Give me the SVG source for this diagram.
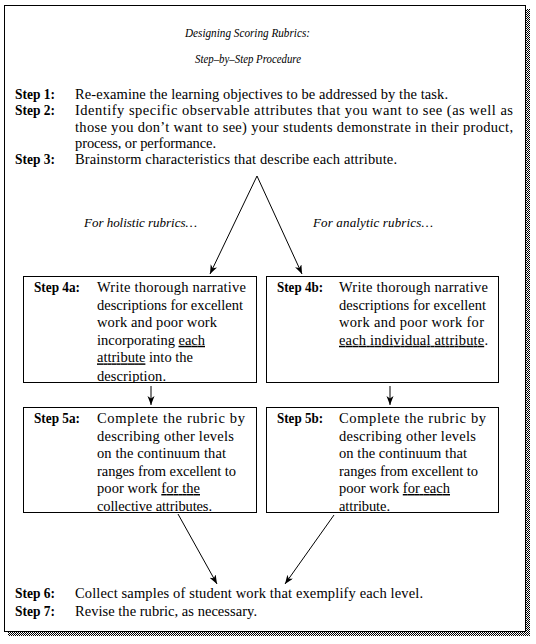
<svg xmlns="http://www.w3.org/2000/svg" width="536" height="644" viewBox="0 0 536 644">
<style>
text{font-family:"Liberation Serif","Times New Roman",serif;fill:#000}
.t{font-size:14.5px}
.b{font-size:14px;font-weight:bold}
.i{font-size:13px;font-style:italic}
.ti{font-size:13.5px;font-style:italic}
.u{text-decoration:underline}
.box{fill:#fff;stroke:#000;stroke-width:1}
.con{fill:none;stroke:#000;stroke-width:1;marker-end:url(#ah)}
</style>
<defs>
<pattern id="dith" width="2" height="2" patternUnits="userSpaceOnUse"><rect width="2" height="2" fill="#fff"/><rect width="1" height="1" fill="#000"/><rect x="1" y="1" width="1" height="1" fill="#000"/></pattern>
<marker id="ah" markerUnits="userSpaceOnUse" markerWidth="10" markerHeight="8" refX="9" refY="3.5" orient="auto"><path d="M0,0 L9,3.5 L0,7 L2.5,3.5 z" fill="#000"/></marker>
<clipPath id="c4a"><rect x="24" y="277" width="232" height="105"/></clipPath>
</defs>
<rect width="536" height="644" fill="#fff"/>
<g id="frame">
<rect x="526" y="9" width="4" height="627" fill="url(#dith)"/>
<rect x="8" y="632" width="522" height="4" fill="url(#dith)"/>
<rect x="4.5" y="5.5" width="521" height="626" fill="none" stroke="#000" stroke-width="1"/>
</g>
<g id="title">
<text class="ti" x="185" y="37" textLength="125" lengthAdjust="spacingAndGlyphs">Designing Scoring Rubrics:</text>
<text class="ti" x="195" y="63" textLength="106" lengthAdjust="spacingAndGlyphs">Step–by–Step Procedure</text>
</g>
<g id="step1">
<text class="b" x="15" y="99" textLength="40" lengthAdjust="spacingAndGlyphs">Step 1:</text>
<text class="t" x="75" y="99" textLength="373" lengthAdjust="spacing">Re-examine the learning objectives to be addressed by the task.</text>
</g>
<g id="step2">
<text class="b" x="15" y="115.25" textLength="40" lengthAdjust="spacingAndGlyphs">Step 2:</text>
<text class="t" x="75" y="115.25" textLength="438" lengthAdjust="spacing">Identify specific observable attributes that you want to see (as well as</text>
<text class="t" x="75" y="131.5" textLength="438" lengthAdjust="spacing">those you don’t want to see) your students demonstrate in their product,</text>
<text class="t" x="75" y="147.75" textLength="141" lengthAdjust="spacing">process, or performance.</text>
</g>
<g id="step3">
<text class="b" x="15" y="164" textLength="40" lengthAdjust="spacingAndGlyphs">Step 3:</text>
<text class="t" x="75" y="164" textLength="322" lengthAdjust="spacing">Brainstorm characteristics that describe each attribute.</text>
</g>
<g id="label-holistic">
<text class="i" x="84" y="227" textLength="113" lengthAdjust="spacing">For holistic rubrics…</text>
</g>
<g id="label-analytic">
<text class="i" x="313" y="227" textLength="120" lengthAdjust="spacing">For analytic rubrics…</text>
</g>
<g id="step4a">
<rect class="box" x="23.5" y="276.5" width="233" height="106"/>
<g clip-path="url(#c4a)">
<text class="b" x="34" y="292" textLength="46" lengthAdjust="spacingAndGlyphs">Step 4a:</text>
<text class="t" x="97" y="292" textLength="149" lengthAdjust="spacing">Write thorough narrative</text>
<text class="t" x="97" y="309.6" textLength="146" lengthAdjust="spacing">descriptions for excellent</text>
<text class="t" x="97" y="327.2" textLength="120" lengthAdjust="spacing">work and poor work</text>
<text class="t" x="97" y="344.8" textLength="108" lengthAdjust="spacing">incorporating <tspan class="u">each</tspan></text>
<text class="t" x="97" y="362.4" textLength="96" lengthAdjust="spacing"><tspan class="u">attribute</tspan> into the</text>
<text class="t" x="97" y="380.5" textLength="69" lengthAdjust="spacing">description.</text>
</g>
</g>
<g id="step4b">
<rect class="box" x="266.5" y="276.5" width="232" height="106"/>
<text class="b" x="277" y="292" textLength="46" lengthAdjust="spacingAndGlyphs">Step 4b:</text>
<text class="t" x="339" y="292" textLength="149" lengthAdjust="spacing">Write thorough narrative</text>
<text class="t" x="339" y="309.6" textLength="147" lengthAdjust="spacing">descriptions for excellent</text>
<text class="t" x="339" y="327.2" textLength="145" lengthAdjust="spacing">work and poor work for</text>
<text class="t" x="339" y="344.8" textLength="149" lengthAdjust="spacing"><tspan class="u">each individual attribute</tspan>.</text>
</g>
<g id="step5a">
<rect class="box" x="23.5" y="407.5" width="233" height="105"/>
<text class="b" x="34" y="423" textLength="46" lengthAdjust="spacingAndGlyphs">Step 5a:</text>
<text class="t" x="97" y="423" textLength="148" lengthAdjust="spacing">Complete the rubric by</text>
<text class="t" x="97" y="440.5" textLength="137" lengthAdjust="spacing">describing other levels</text>
<text class="t" x="97" y="458" textLength="129" lengthAdjust="spacing">on the continuum that</text>
<text class="t" x="97" y="475.5" textLength="139" lengthAdjust="spacing">ranges from excellent to</text>
<text class="t" x="97" y="493" textLength="103" lengthAdjust="spacing">poor work <tspan class="u">for the</tspan></text>
<text class="t" x="97" y="510.5" textLength="115" lengthAdjust="spacing">collective attributes.</text>
</g>
<g id="step5b">
<rect class="box" x="266.5" y="407.5" width="232" height="105"/>
<text class="b" x="277" y="423" textLength="46" lengthAdjust="spacingAndGlyphs">Step 5b:</text>
<text class="t" x="339" y="423" textLength="147" lengthAdjust="spacing">Complete the rubric by</text>
<text class="t" x="339" y="440.5" textLength="137" lengthAdjust="spacing">describing other levels</text>
<text class="t" x="339" y="458" textLength="128" lengthAdjust="spacing">on the continuum that</text>
<text class="t" x="339" y="475.5" textLength="139" lengthAdjust="spacing">ranges from excellent to</text>
<text class="t" x="339" y="493" textLength="111" lengthAdjust="spacing">poor work <tspan class="u">for each</tspan></text>
<text class="t" x="339" y="510.5" textLength="51" lengthAdjust="spacing">attribute.</text>
</g>
<g id="step6">
<text class="b" x="15" y="598" textLength="40" lengthAdjust="spacingAndGlyphs">Step 6:</text>
<text class="t" x="75" y="598" textLength="348" lengthAdjust="spacing">Collect samples of student work that exemplify each level.</text>
</g>
<g id="step7">
<text class="b" x="15" y="616" textLength="40" lengthAdjust="spacingAndGlyphs">Step 7:</text>
<text class="t" x="75" y="616" textLength="182" lengthAdjust="spacing">Revise the rubric, as necessary.</text>
</g>
<g id="connectors">
<path class="con" d="M257,176 L210,274"/>
<path class="con" d="M257,176 L302,274"/>
<path class="con" d="M151,386 L151,405"/>
<path class="con" d="M390,386 L390,405"/>
<path class="con" d="M178,514 L217,584"/>
<path class="con" d="M334,515 L285,584"/>
</g>
</svg>
